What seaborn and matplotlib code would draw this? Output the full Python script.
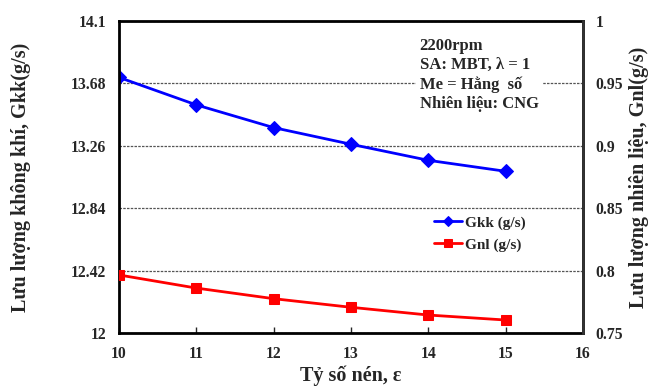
import numpy as np
import pandas as pd
import matplotlib
matplotlib.use("Agg")
import matplotlib.pyplot as plt
import seaborn as sns

# data
ratio = [10, 11, 12, 13, 14, 15]
gkk = [13.72, 13.535, 13.382, 13.27, 13.162, 13.088]
gnl = [0.7965, 0.786, 0.7775, 0.7706, 0.7644, 0.7604]
left_ticks = [12, 12.42, 12.84, 13.26, 13.68, 14.1]
right_ticks = [0.75, 0.8, 0.85, 0.9, 0.95, 1]
x_ticks = [10, 11, 12, 13, 14, 15, 16]

sns.set_style("white")
plt.rcParams["font.family"] = ["Liberation Serif", "DejaVu Serif"]
plt.rcParams["font.weight"] = "bold"

df = pd.DataFrame({"ratio": ratio, "gkk": gkk, "gnl": gnl})

fig = plt.figure(figsize=(6.5, 3.87), dpi=100)
ax = fig.add_axes([0.183, 0.1395, 0.714, 0.8065])
ax2 = ax.twinx()

sns.lineplot(data=df, x="ratio", y="gkk", ax=ax, color="#0000ff", lw=2,
             marker="D", markersize=7, markeredgecolor="#0000ff",
             label="Gkk (g/s)", legend=False)
sns.lineplot(data=df, x="ratio", y="gnl", ax=ax2, color="#ff0000", lw=2,
             marker="s", markersize=7.5, markeredgecolor="#ff0000",
             label="Gnl (g/s)", legend=False)

ax.set_xlim(10, 16)
ax.set_ylim(12, 14.1)
ax2.set_ylim(0.75, 1)
ax.set_xticks(x_ticks)
ax.set_yticks(left_ticks)
ax.set_yticklabels([f"{t:g}" for t in left_ticks])
ax2.set_yticks(right_ticks)
ax2.set_yticklabels([f"{t:g}" for t in right_ticks])

for a in (ax, ax2):
    a.tick_params(axis="both", labelsize=11.3, length=0, pad=9)
    for lab in a.get_yticklabels() + a.get_xticklabels():
        lab.set_fontweight("bold")
ax.tick_params(axis="x", direction="in", length=4, width=1, bottom=True, pad=9)

ax.yaxis.grid(True, ls=(0, (2, 1)), color="#555555", lw=0.9)
ax.set_axisbelow(True)

for s in ax.spines.values():
    s.set_color("black")
    s.set_linewidth(2)
ax2.spines["right"].set_color("#333333")
ax2.spines["right"].set_linewidth(2)
for k in ("left", "top", "bottom"):
    ax2.spines[k].set_visible(False)

ax.set_xlabel("Tỷ số nén, ε", fontsize=14.5, fontweight="bold")
ax.set_ylabel("Lưu lượng không khí, Gkk(g/s)", fontsize=14.5, fontweight="bold")
ax2.set_ylabel("Lưu lượng nhiên liệu, Gnl(g/s)", fontsize=14.5, fontweight="bold",
               rotation=90)
ax.xaxis.set_label_coords(0.5, -0.138)
ax.yaxis.set_label_coords(-0.212, 0.5)
ax2.yaxis.set_label_coords(1.12, 0.5)
ax.xaxis.label.set_va("center")
ax.yaxis.label.set_va("center")
ax2.yaxis.label.set_va("center")

ax.text(0.648, 0.945,
        "2200rpm\nSA: MBT, λ = 1\nMe = Hằng  số\nNhiên liệu: CNG",
        transform=ax.transAxes, fontsize=12, fontweight="bold", va="top",
        linespacing=1.27,
        bbox=dict(facecolor="white", edgecolor="none", pad=3), zorder=5)

h1, l1 = ax.get_legend_handles_labels()
h2, l2 = ax2.get_legend_handles_labels()
leg = ax2.legend(h1 + h2, l1 + l2, loc="upper left", bbox_to_anchor=(0.65, 0.42),
                 frameon=True, fancybox=False, edgecolor="white", framealpha=1,
                 prop={"size": 11, "weight": "bold"}, handlelength=1.8,
                 markerscale=0.75, labelspacing=0.55, handletextpad=0.2)

fig.savefig("out.png", dpi=100)
